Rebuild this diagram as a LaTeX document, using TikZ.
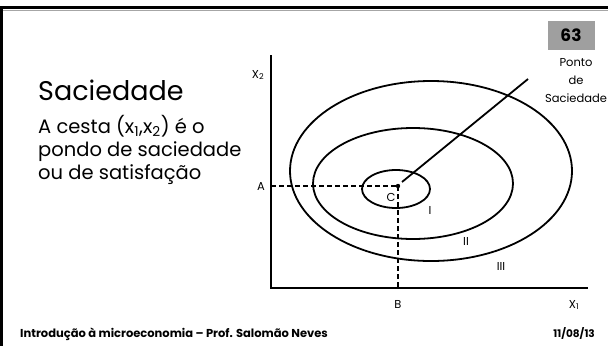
\documentclass[tikz,border=0pt]{standalone}
\usepackage{fontspec}
\setmainfont{Poppins}
\begin{document}
\begin{tikzpicture}[x=1pt,y=-1pt,
  curve/.style={line width=1.8pt},
  axisline/.style={line width=2pt},
  guide/.style={line width=1.3pt,dash pattern=on 5pt off 3pt},
  lbl/.style={font=\fontsize{11.5}{13}\selectfont,inner sep=0pt},
  bodytxt/.style={anchor=base west,inner sep=0pt,font=\fontsize{19.5}{22}\selectfont},
  sidetxt/.style={anchor=base,inner sep=0pt,font=\fontsize{11.5}{13}\selectfont}]
\useasboundingbox (0,0) rectangle (608,346);
% slide frame
\fill[black] (0,5.5) rectangle (608,8.5);
\draw[gray!70,line width=0.6pt] (3,10.5) -- (608,10.5);
\fill[black] (0,5.5) rectangle (3,346);
% title and text
\node[anchor=base west,inner sep=0pt,font=\fontsize{27}{30}\selectfont] (title) at (38,100) {Saciedade};
\node[bodytxt] (body1) at (38,133) {A cesta (x\textsubscript{1},x\textsubscript{2}) é o};
\node[bodytxt] (body2) at (38,156) {pondo de saciedade};
\node[bodytxt] (body3) at (38,179) {ou de satisfação};
% badge
\node[fill=gray!75,minimum width=47pt,minimum height=29pt,inner sep=0pt,font=\fontsize{17}{19}\selectfont\bfseries] (badge) at (571,35.5) {63};
\node[sidetxt] (ponto) at (576,66) {Ponto};
\node[sidetxt] (de) at (576,84) {de};
\node[sidetxt] (sac) at (576,102) {Saciedade};
% axes
\coordinate (O) at (271,288);
\coordinate (Ytop) at (271,55);
\coordinate (Xend) at (588,288);
\draw[axisline] (Ytop) -- (O) -- (Xend);
\node[lbl,anchor=base] (x2) at (258,78) {X\textsubscript{2}};
\node[lbl,anchor=base] (x1) at (574,308) {X\textsubscript{1}};
% indifference curves
\draw[curve] (431,171) ellipse [x radius=141pt,y radius=90pt];
\draw[curve] (413,183.5) ellipse [x radius=100pt,y radius=55.5pt];
\draw[curve] (396,189) ellipse [x radius=34pt,y radius=19pt];
% point C
\coordinate (C) at (398,186);
\coordinate (Aax) at (271,186);
\coordinate (Bax) at (398,288);
\draw[guide] (Aax) -- (C);
\draw[guide] (C) -- (Bax);
\fill (C) circle (2.2pt);
\node[lbl,anchor=base] (A) at (261,190) {A};
\node[lbl,anchor=base] (B) at (398,308) {B};
\node[lbl,anchor=base] (Clbl) at (391,201) {C};
\coordinate (P) at (528,79);
\draw[curve] ([shift={(4pt,4pt)}]C) -- (P);
\node[lbl,anchor=base] (I) at (430,214) {I};
\node[lbl,anchor=base] (II) at (466,245) {II};
\node[lbl,anchor=base] (III) at (501,270) {III};
% footer
\node[anchor=base west,inner sep=0pt,font=\fontsize{11.5}{13}\selectfont\bfseries] (foot) at (20,337) {Introdução à microeconomia – Prof. Salomão Neves};
\node[anchor=base east,inner sep=0pt,font=\fontsize{10.5}{12}\selectfont\bfseries] (date) at (595,337) {11/08/13};
\end{tikzpicture}
\end{document}
